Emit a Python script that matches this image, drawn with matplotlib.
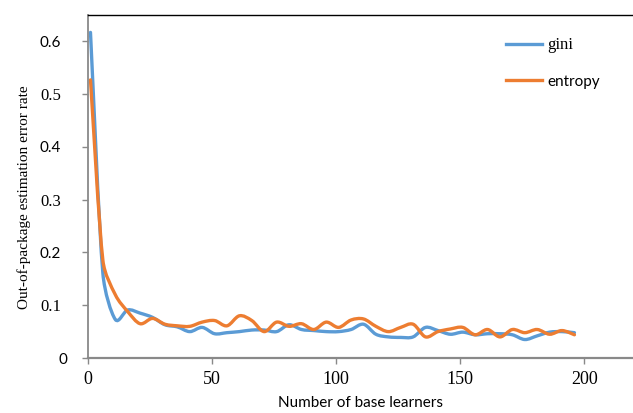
import numpy as np
import matplotlib
matplotlib.use("Agg")
import matplotlib.pyplot as plt
from matplotlib.path import Path
from matplotlib.patches import PathPatch
from matplotlib.lines import Line2D
from matplotlib.transforms import ScaledTranslation

# number of base learners (x)
n_learners = [1, 6, 11, 16, 21, 26, 31, 36, 41, 46,
              51, 56, 61, 66, 71, 76, 81, 86, 91, 96,
              101, 106, 111, 116, 121, 126, 131, 136, 141, 146,
              151, 156, 161, 166, 171, 176, 181, 186, 191, 196]

gini = [0.617, 0.160, 0.073, 0.091, 0.085, 0.077, 0.063, 0.059, 0.050, 0.058,
        0.046, 0.048, 0.050, 0.053, 0.053, 0.050, 0.063, 0.054, 0.052, 0.050,
        0.050, 0.054, 0.064, 0.045, 0.040, 0.039, 0.040, 0.058, 0.052, 0.045,
        0.049, 0.044, 0.046, 0.046, 0.044, 0.035, 0.042, 0.049, 0.050, 0.048]

entropy = [0.527, 0.185, 0.120, 0.088, 0.065, 0.075, 0.064, 0.061, 0.060, 0.068,
           0.071, 0.061, 0.080, 0.071, 0.050, 0.068, 0.060, 0.065, 0.054, 0.068,
           0.058, 0.072, 0.074, 0.060, 0.050, 0.058, 0.064, 0.040, 0.050, 0.055,
           0.058, 0.044, 0.054, 0.040, 0.054, 0.048, 0.054, 0.045, 0.052, 0.044]

xticks = [0, 50, 100, 150, 200]
yticks = [0, 0.1, 0.2, 0.3, 0.4, 0.5, 0.6]
ytick_labels = ["0", "0.1", "0.2", "0.3", "0.4", "0.5", "0.6"]

SANS = "Lato"
SERIF = "Liberation Serif"
BLUE = "#5B9BD5"
ORANGE = "#ED7D31"
GREY = "#898989"


def smooth_path(ax, xs, ys, limit=0.4):
    # Excel-like smoothed line: Catmull-Rom bezier worked out on screen,
    # with the control arms kept short next to short segments
    pts = ax.transData.transform(np.column_stack([xs, ys]).astype(float))
    verts = [pts[0]]
    codes = [Path.MOVETO]
    for i in range(len(pts) - 1):
        p0 = pts[i - 1] if i > 0 else pts[i]
        p1 = pts[i]
        p2 = pts[i + 1]
        p3 = pts[i + 2] if i + 2 < len(pts) else pts[i + 1]
        seg = np.hypot(*(p2 - p1))
        a1 = (p2 - p0) / 6
        a2 = (p3 - p1) / 6
        for a in (a1, a2):
            n = np.hypot(*a)
            if n > limit * seg:
                a *= limit * seg / n
        verts += [p1 + a1, p2 - a2, p2]
        codes += [Path.CURVE4] * 3
    verts = ax.transData.inverted().transform(np.array(verts))
    return Path(verts, codes)


fig = plt.figure(figsize=(6.33, 4.13), dpi=100)
ax = fig.add_axes([88 / 633, 55 / 413, 546 / 633, 343 / 413])
ax.set_xlim(0, 220)
ax.set_ylim(0, 0.65)

for ys, col in [(gini, BLUE), (entropy, ORANGE)]:
    ax.add_patch(PathPatch(smooth_path(ax, n_learners, ys), facecolor="none",
                           edgecolor=col, lw=2.4, capstyle="round",
                           joinstyle="round"))

ax.spines["right"].set_visible(False)
ax.spines["top"].set_color("black")
ax.spines["top"].set_linewidth(1.0)
ax.spines["left"].set_color(GREY)
ax.spines["left"].set_linewidth(1.3)
ax.spines["bottom"].set_color(GREY)
ax.spines["bottom"].set_linewidth(1.6)

ax.tick_params(axis="both", direction="out", length=4, width=1, color=GREY)
ax.tick_params(axis="y", pad=15.5)
ax.tick_params(axis="x", pad=5)

ax.set_xticks(xticks, labels=[str(v) for v in xticks])
for lbl in ax.get_xticklabels():
    lbl.set_fontfamily(SERIF)
    lbl.set_fontsize(13)

ax.set_yticks(yticks, labels=ytick_labels)
ylbls = ax.get_yticklabels()
for i, lbl in enumerate(ylbls):
    # Office mixed the fonts: even labels sans, odd labels serif
    if i % 2 == 0:
        lbl.set_fontfamily(SANS)
        lbl.set_fontsize(11)
    else:
        lbl.set_fontfamily(SERIF)
        lbl.set_fontsize(12)
ylbls[0].set_transform(ylbls[0].get_transform()
                       + ScaledTranslation(6 / 100, 0, fig.dpi_scale_trans))

ax.set_xlabel("Number of base learners", fontfamily=SANS, fontsize=11,
              labelpad=6)
ax.set_ylabel("Out-of-package estimation error rate", fontfamily=SERIF,
              fontsize=11)
ax.yaxis.set_label_coords(-0.105, 0.47)

handles = [Line2D([], [], color=BLUE, lw=2.4),
           Line2D([], [], color=ORANGE, lw=2.4)]
leg = ax.legend(handles, ["gini", "entropy"], loc="upper left",
                bbox_to_anchor=(0.765, 0.935), frameon=False, fontsize=11,
                handlelength=2.4, handletextpad=0.3, labelspacing=1.4,
                borderpad=0, borderaxespad=0)
leg.get_texts()[0].set_fontfamily(SERIF)
leg.get_texts()[0].set_fontsize(12)
leg.get_texts()[1].set_fontfamily(SANS)

fig.savefig("out.png", dpi=100)
